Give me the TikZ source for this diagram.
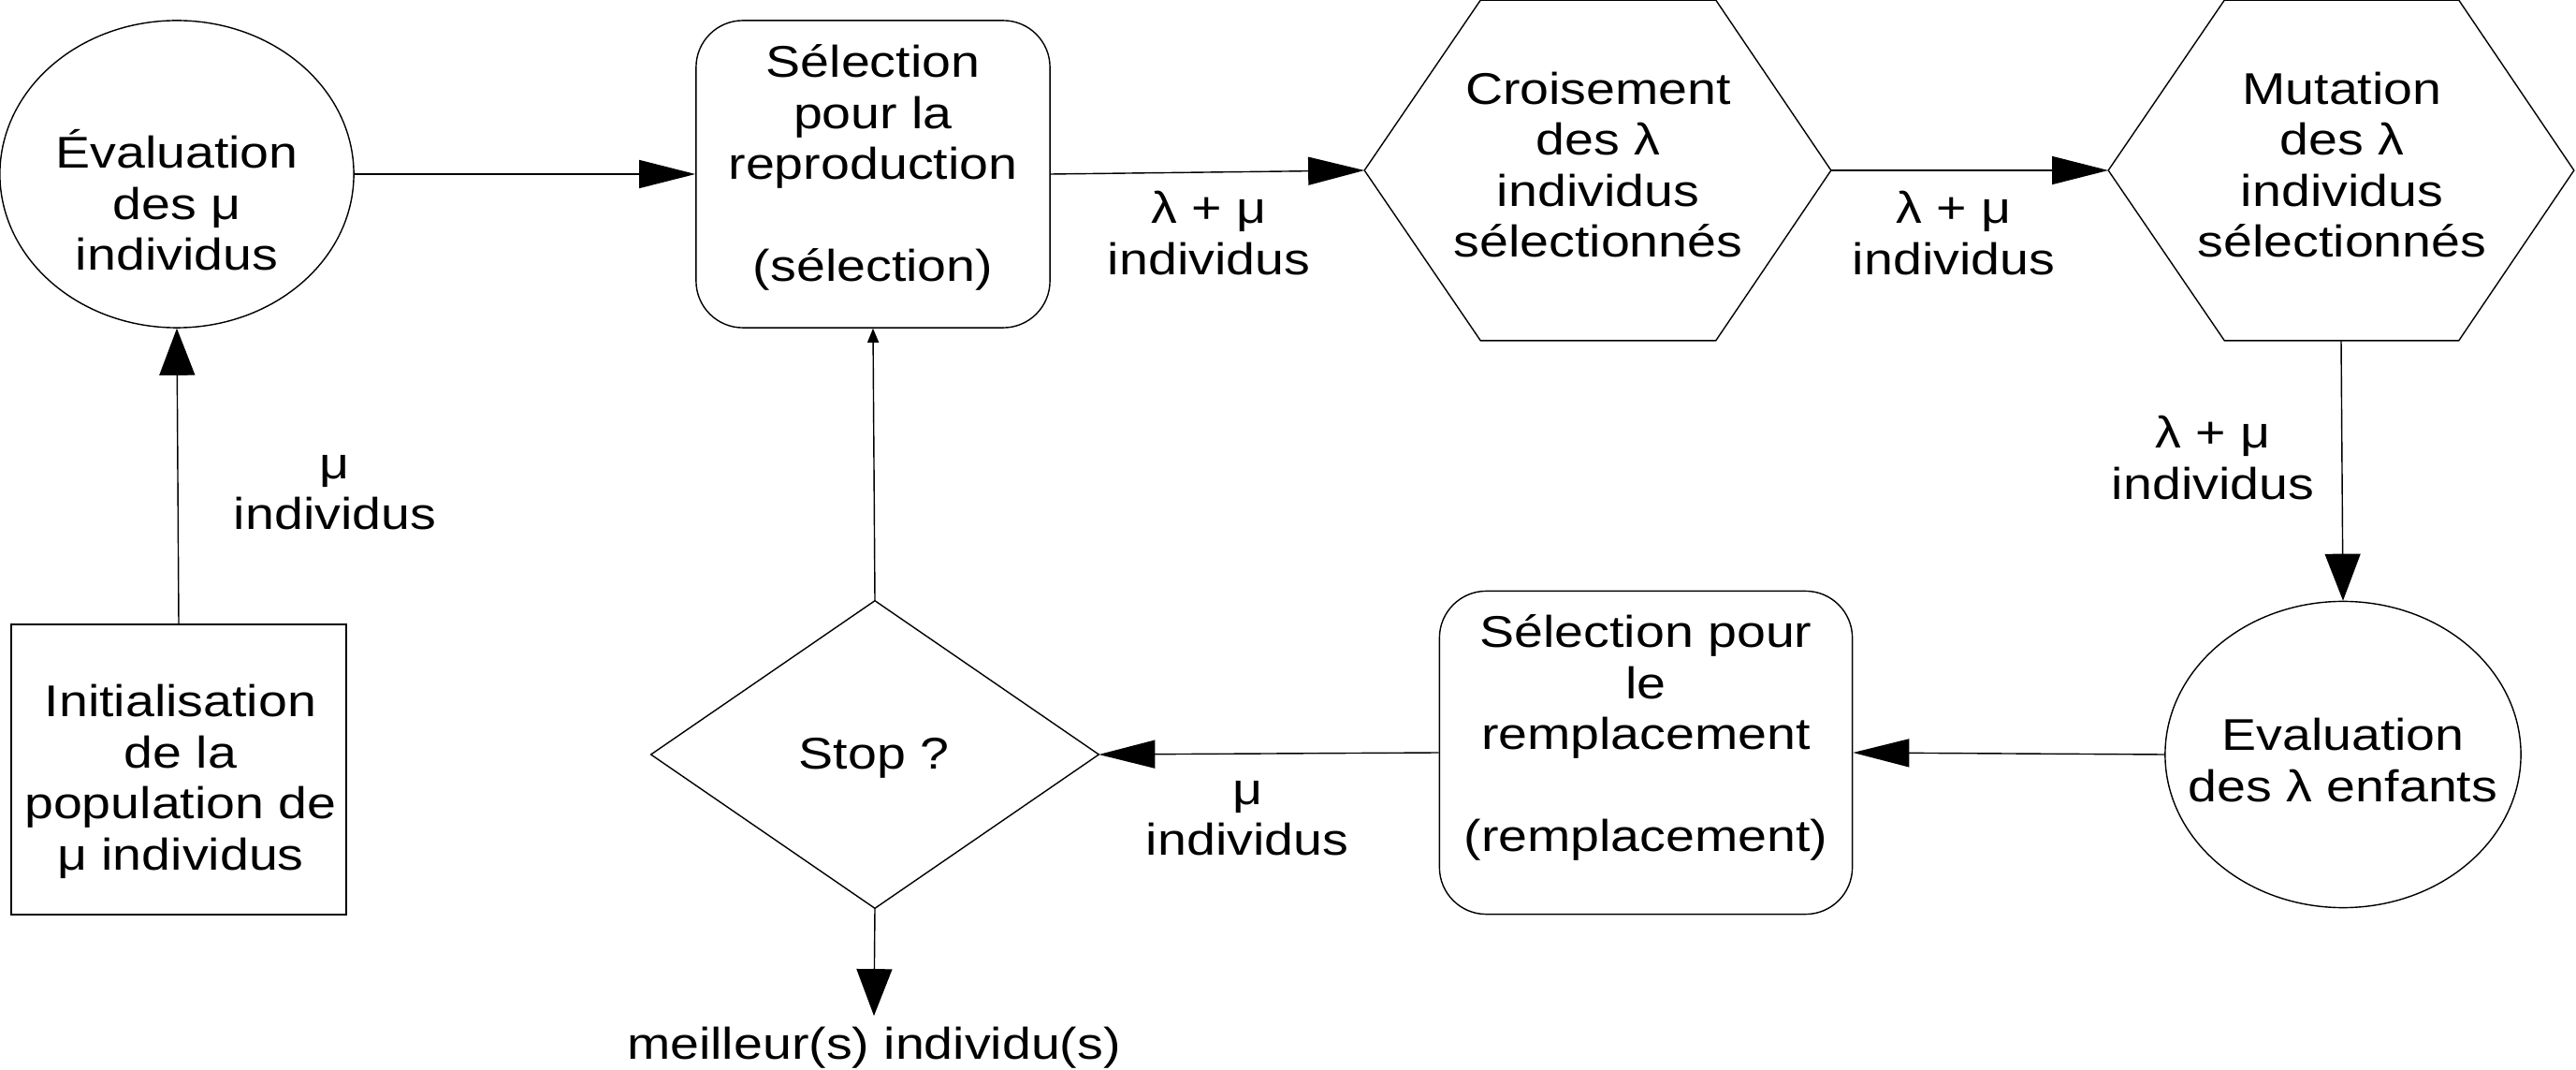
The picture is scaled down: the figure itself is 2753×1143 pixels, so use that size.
\documentclass[tikz,border=0pt]{standalone}
\usepackage{fontspec}
\setmainfont{Liberation Sans}[FakeStretch=1.17]
\usetikzlibrary{shapes.geometric,arrows.meta}
\tikzset{
  shp/.style={draw, line width=0.4pt, inner sep=0pt},
  ghost/.style={inner sep=0pt, draw=none},
  txt/.style={align=center, inner sep=0pt},
  conn/.style={draw, line width=0.4pt},
  harr/.style={conn, -{Triangle[length=0.6cm,width=0.3cm]}},
  varr/.style={conn, -{Triangle[length=0.5cm,width=0.38cm]}},
  sarr/.style={conn, -{Triangle[length=0.15cm,width=0.12cm]}}
}
\begin{document}
\begin{tikzpicture}[x=0.01cm,y=-0.01cm,font=\fontsize{13.5pt}{15.5pt}\selectfont]
\useasboundingbox (0,0) rectangle (2753,1143);
% shapes
\node[shp, ellipse, minimum width=3.78cm, minimum height=3.28cm] (e1) at (189,186) {};
\node[shp, rectangle, rounded corners=0.5cm, minimum width=3.78cm, minimum height=3.28cm] (r1) at (933,186) {};
\node[ghost, minimum width=4.97cm, minimum height=3.62cm] (h1) at (1707.5,182) {};
\node[ghost, minimum width=4.96cm, minimum height=3.62cm] (h2) at (2502,182) {};
\draw[line width=0.4pt] (h1.west) -- ([xshift=1.24cm]h1.north west) -- ([xshift=-1.23cm]h1.north east) -- (h1.east) -- ([xshift=-1.23cm]h1.south east) -- ([xshift=1.24cm]h1.south west) -- cycle;
\draw[line width=0.4pt] (h2.west) -- ([xshift=1.24cm]h2.north west) -- ([xshift=-1.23cm]h2.north east) -- (h2.east) -- ([xshift=-1.23cm]h2.south east) -- ([xshift=1.24cm]h2.south west) -- cycle;
\node[shp, ellipse, minimum width=3.80cm, minimum height=3.27cm] (e2) at (2504,806) {};
\node[shp, rectangle, rounded corners=0.5cm, minimum width=4.41cm, minimum height=3.45cm] (r2) at (1759,804) {};
\node[ghost, minimum width=4.77cm, minimum height=3.27cm] (d) at (935,806) {};
\draw[line width=0.4pt] (d.west) -- (d.north) -- (d.east) -- (d.south) -- cycle;
\node[shp, rectangle, minimum width=3.58cm, minimum height=3.10cm] (init) at (191,822) {};
% texts
\node[txt] (te1) at (189,214) {Évaluation\\des μ\\individus};
\node[txt] (tr1) at (933,179) {Sélection\\pour la\\reproduction\\[15.5pt](sélection)};
\node[txt] (th1) at (1708,176) {Croisement\\des λ\\individus\\sélectionnés};
\node[txt] (th2) at (2503,176) {Mutation\\des λ\\individus\\sélectionnés};
\node[txt] (te2) at (2504,812) {Evaluation\\des λ enfants};
\node[txt] (tr2) at (1759,788) {Sélection pour\\le\\remplacement\\[15.5pt](remplacement)};
\node[txt] (td) at (934,810) {Stop ?};
\node[txt] (tinit) at (193,835) {Initialisation\\de la\\population de\\μ individus};
\node[txt] (l1) at (1292,249) {λ + μ\\individus};
\node[txt] (l2) at (2088,249) {λ + μ\\individus};
\node[txt] (l3) at (2365,489) {λ + μ\\individus};
\node[txt] (l4) at (1333,874) {μ\\individus};
\node[txt] (l5) at (358,526) {μ\\individus};
\node[txt, inner sep=0.11cm] (out) at (934,1119) {meilleur(s) individu(s)};
% connectors
\draw[harr] (e1.east) -- (r1.west);
\draw[harr] (r1.east) -- (h1.west);
\draw[harr] (h1.east) -- (h2.west);
\draw[varr] (h2.south) -- (e2.north);
\draw[harr] (e2.west) -- (r2.east);
\draw[harr] (r2.west) -- (d.east);
\draw[sarr] (d.north) -- (r1.south);
\draw[varr] (d.south) -- (out.north);
\draw[varr] (init.north) -- (e1.south);
\end{tikzpicture}
\end{document}
